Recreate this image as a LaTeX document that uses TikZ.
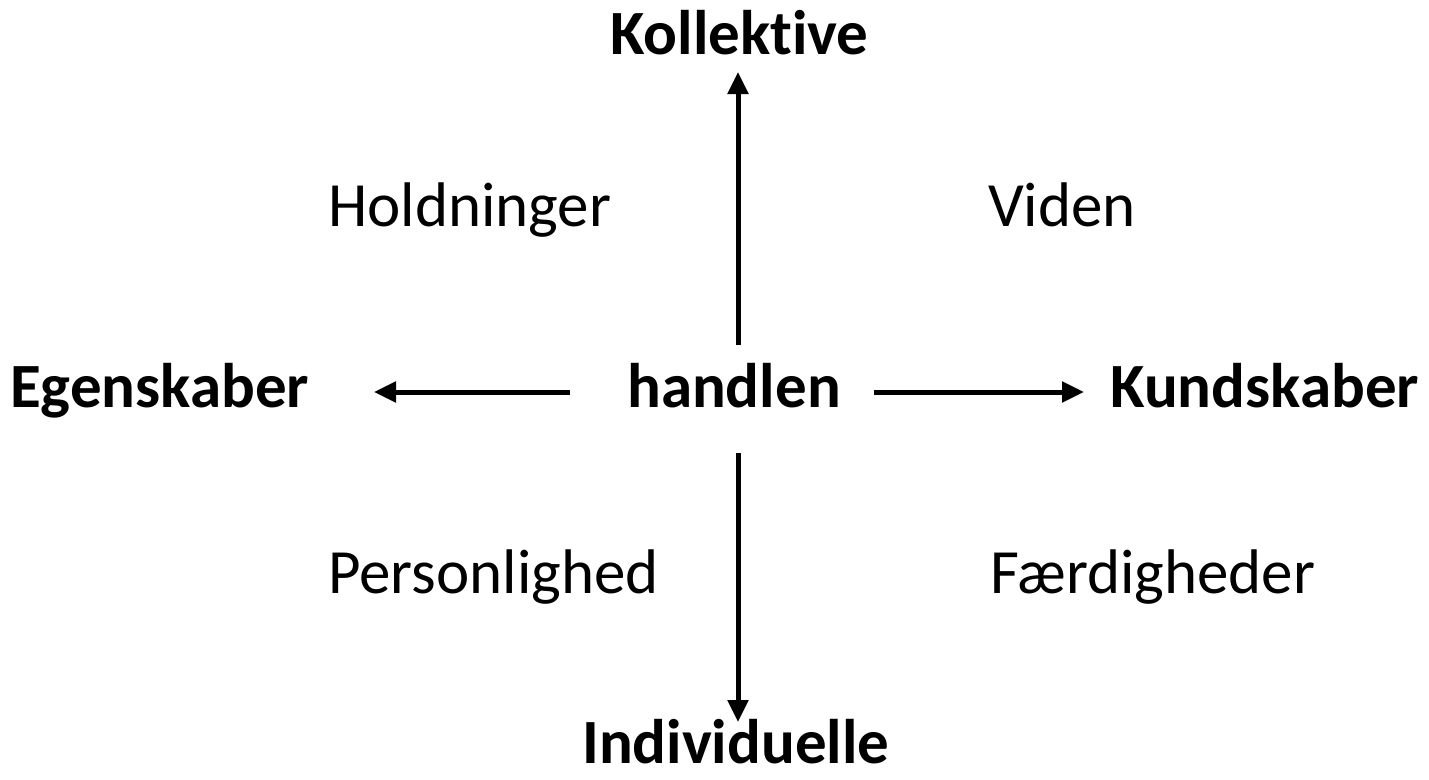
\documentclass[tikz,border=0pt]{standalone}
\usepackage{fontspec}
\setmainfont{Carlito}[Ligatures=NoCommon]
\usetikzlibrary{arrows.meta}
\begin{document}
\begin{tikzpicture}[x=1pt,y=-1pt,
  lbl/.style={inner sep=0pt,anchor=base west,font=\fontsize{63}{75}\selectfont},
  blbl/.style={lbl,font=\fontsize{63}{75}\selectfont\bfseries},
  arr/.style={line width=5pt,-{Triangle[length=22pt,width=20pt]}}]
\useasboundingbox (0,0) rectangle (1429,779);
\node[blbl] (kol) at (610,54) {Kollektive};
\node[blbl] (ind) at (582,763) {Individuelle};
\node[blbl] (ege) at (10,407) {Egenskaber};
\node[blbl] (han) at (627,407) {handlen};
\node[blbl] (kun) at (1110,407) {Kundskaber};
\node[lbl] (hol) at (328,226) {Holdninger};
\node[lbl] (vid) at (988,226) {Viden};
\node[lbl] (per) at (328,593) {Personlighed};
\node[lbl] (fae) at (990,593) {Færdigheder};
\coordinate (up0) at (738,345);
\coordinate (up1) at (738,72);
\coordinate (dn0) at (738,453);
\coordinate (dn1) at (738,722);
\coordinate (lf0) at (570,392);
\coordinate (lf1) at (374,392);
\coordinate (rt0) at (874,392);
\coordinate (rt1) at (1084,392);
\draw[arr] (up0) -- (up1);
\draw[arr] (dn0) -- (dn1);
\draw[arr] (lf0) -- (lf1);
\draw[arr] (rt0) -- (rt1);
\end{tikzpicture}
\end{document}
